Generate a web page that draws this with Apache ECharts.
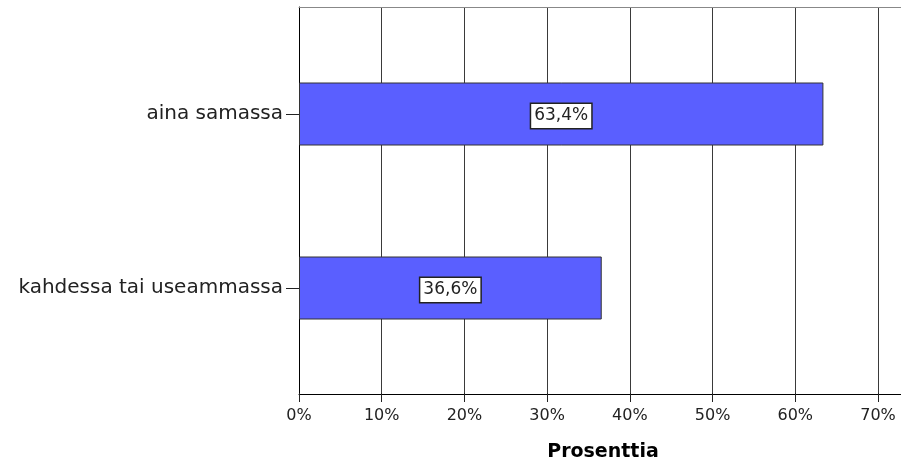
<!DOCTYPE html>
<html>
<head>
<meta charset="utf-8">
<script src="https://cdn.jsdelivr.net/npm/echarts@6/dist/echarts.min.js"></script>
<style>html,body{margin:0;padding:0;background:#fff}#c{width:901px;height:467px}</style>
</head>
<body>
<div id="c"></div>
<script>
var categories = ['aina samassa', 'kahdessa tai useammassa'];
var values = [63.4, 36.6];
var valueLabels = ['63,4%', '36,6%'];
var tickLabels = ['0%', '10%', '20%', '30%', '40%', '50%', '60%', '70%'];
var axisTitle = 'Prosenttia';

var chart = echarts.init(document.getElementById('c'), null, {renderer: 'canvas'});
var font = 'DejaVu Sans';
chart.setOption({
  animation: false,
  grid: [
    {left: 299, right: 23, top: 7, bottom: 73},
    {left: 299, right: 23, top: 27, bottom: 92},
    {left: 299, right: 0, top: 7, bottom: 73}
  ],
  xAxis: [
    {
      gridIndex: 0, type: 'value', min: 0, max: 70, interval: 10,
      axisLine: {show: false},
      axisTick: {show: true, length: 9, lineStyle: {color: '#222'}},
      axisLabel: {
        margin: 15, color: '#222', fontFamily: font, fontSize: 16,
        formatter: function (v) { return tickLabels[Math.round(v / 10)]; }
      },
      splitLine: {show: true, lineStyle: {color: '#3a3a3a', width: 1}},
      name: axisTitle, nameLocation: 'middle', nameGap: 50,
      nameTextStyle: {fontFamily: font, fontWeight: 'bold', fontSize: 19, color: '#000', padding: [0, 0, 0, 29]}
    },
    {
      gridIndex: 1, type: 'value', min: 0, max: 70, show: false
    },
    {
      gridIndex: 2, type: 'value', min: 0, max: 1, position: 'bottom',
      axisLine: {show: true, lineStyle: {color: '#000', width: 1}},
      axisTick: {show: false}, axisLabel: {show: false}, splitLine: {show: false}
    },
    {
      gridIndex: 2, type: 'value', min: 0, max: 1, position: 'top',
      axisLine: {show: true, lineStyle: {color: '#888', width: 1}},
      axisTick: {show: false}, axisLabel: {show: false}, splitLine: {show: false}
    }
  ],
  yAxis: [
    {
      gridIndex: 0, type: 'value', show: true,
      axisLine: {show: true, lineStyle: {color: '#000'}},
      axisTick: {show: false}, axisLabel: {show: false}, splitLine: {show: false}
    },
    {
      gridIndex: 1, type: 'category', data: categories, inverse: true,
      axisLine: {show: false},
      axisTick: {show: true, alignWithLabel: true, length: 13, lineStyle: {color: '#222'}},
      axisLabel: {margin: 16, color: '#222', fontFamily: font, fontSize: 20},
      splitLine: {show: false}
    },
    {
      gridIndex: 2, type: 'value', show: false
    }
  ],
  series: [{
    type: 'bar', xAxisIndex: 1, yAxisIndex: 1,
    data: values, barWidth: 63,
    itemStyle: {color: '#5a5fff', borderColor: '#333', borderWidth: 1},
    label: {
      show: true, position: 'inside', offset: [0, 2], fontFamily: font, fontSize: 17, color: '#222',
      backgroundColor: '#fff', borderColor: '#222', borderWidth: 1.5, padding: [4, 3, 3, 3],
      formatter: function (p) { return valueLabels[p.dataIndex]; }
    }
  }]
});
</script>
</body>
</html>
